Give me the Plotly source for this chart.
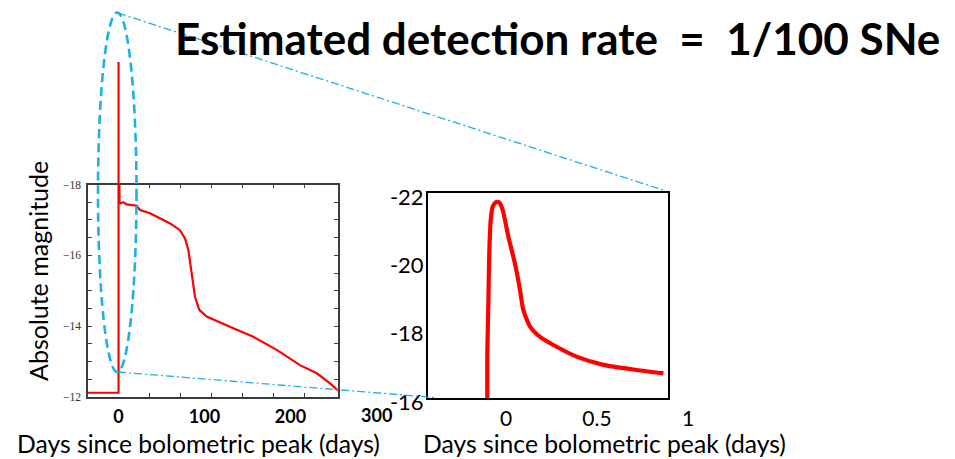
import plotly.graph_objects as go

# ---------------- data ----------------
# Left panel: full light curve (days since bolometric peak, absolute magnitude)
left_days = [-36, -0.3, 0.0, 0.0, 1.2, 2.6, 5.6, 9.5, 17.2, 21.1, 25.0, 36.6, 52.1, 59.9,
             71.5, 77.3, 81.2, 85.1, 88.9, 93.9, 102.5, 133.5, 156.7, 183.9, 211.0,
             230.5, 245.6, 255.4]
left_mag = [-12.12, -12.12, -12.12, -21.46, -17.47, -17.47, -17.50, -17.44, -17.40, -17.40,
            -17.28, -17.19, -17.00, -16.90, -16.71, -16.48, -16.15, -15.40, -14.83,
            -14.46, -14.27, -13.94, -13.70, -13.33, -12.90, -12.67, -12.39, -12.18]
spike_day = 0.0
spike_peak_mag = -21.46

# Right panel: zoom on the shock breakout (first day)
right_days = [-0.103, -0.103, -0.097, -0.092, -0.084, -0.073, -0.055, -0.037, -0.018, 0.013,
              0.049, 0.077, 0.095, 0.132, 0.187, 0.278, 0.388, 0.535, 0.718, 0.865]
right_mag = [-16.0, -17.21, -18.77, -20.24, -21.21, -21.60, -21.73, -21.72, -21.50, -20.72,
             -19.94, -19.16, -18.58, -18.09, -17.79, -17.50, -17.21, -16.97, -16.82, -16.72]

left_xticks = [0, 100, 200]
left_xtick_text = ["0", "100", "200"]
left_extra_xlabel = 300
left_xminor = [36, 72, 108, 144, 180, 216]
left_yticks = [-18, -16, -14, -12]
left_yminor = [-17.5, -17, -16.5, -15.5, -15, -14.5, -13.5, -13, -12.5]

right_xticks = [0, 0.5]
right_xtick_text = ["0", "0.5"]
right_extra_xlabel = 1
right_yticks = [-22, -20, -18, -16]
right_ytick_text = ["-22", "-20", "-18", "-16"]

title_text = "Estimated detection rate\u00a0\u00a0=\u00a0\u00a01/100 SNe"
xtitle = "Days since bolometric peak (days)"
ytitle = "Absolute magnitude"

# ---------------- layout geometry ----------------
W, H = 955, 459
def px(x):
    return x / W
def py(y):
    return 1 - y / H

LEFT_XDOM = [px(88), px(338)]
LEFT_YDOM = [py(397), py(184.5)]
LEFT_XRANGE = [-35.5, 255.2]
LEFT_YRANGE = [-12, -18]
RIGHT_XDOM = [px(428), px(668)]
RIGHT_YDOM = [py(398), py(193)]
RIGHT_XRANGE = [-0.4286, 0.8901]
RIGHT_YRANGE = [-16, -22]

def left_y_paper(v):
    f = (v - LEFT_YRANGE[0]) / (LEFT_YRANGE[1] - LEFT_YRANGE[0])
    return LEFT_YDOM[0] + f * (LEFT_YDOM[1] - LEFT_YDOM[0])

def dom_frac(v, rng):
    return (v - rng[0]) / (rng[1] - rng[0])

RED = "#ff0000"
BLUE = "#1ab0e8"
FONT = "Lato"

fig = go.Figure()
fig.add_trace(go.Scatter(x=left_days, y=left_mag, mode="lines",
                         line=dict(color=RED, width=2.2), xaxis="x", yaxis="y",
                         showlegend=False, hoverinfo="skip"))
fig.add_trace(go.Scatter(x=right_days, y=right_mag, mode="lines",
                         line=dict(color=RED, width=4.2, shape="spline", smoothing=0.6),
                         xaxis="x2", yaxis="y2", showlegend=False, hoverinfo="skip"))

grey = "#3c3c3c"
fig.update_layout(
    template="none",
    width=W, height=H, margin=dict(l=0, r=0, t=0, b=0, pad=0, autoexpand=False),
    paper_bgcolor="white", plot_bgcolor="white",
    font=dict(family=FONT, color="black"),
    xaxis=dict(domain=LEFT_XDOM, range=LEFT_XRANGE, anchor="y", automargin=False,
               showline=True, linecolor=grey, linewidth=1.5, mirror="ticks",
               showgrid=False, zeroline=False,
               tickmode="array", tickvals=left_xticks, ticktext=left_xtick_text,
               ticks="inside", ticklen=0, ticklabelstandoff=3,
               tickfont=dict(family=FONT, size=18, color="black", weight="bold"),
               minor=dict(tickmode="array", tickvals=left_xminor, ticks="inside",
                          ticklen=4, tickcolor=grey, tickwidth=1.2, showgrid=False)),
    yaxis=dict(domain=LEFT_YDOM, range=LEFT_YRANGE, anchor="x", automargin=False,
               showline=True, linecolor=grey, linewidth=1.5, mirror="ticks",
               showgrid=False, zeroline=False,
               tickmode="array", tickvals=left_yticks,
               ticks="inside", ticklen=4, tickcolor=grey, tickwidth=1.2,
               ticklabelstandoff=3,
               tickfont=dict(family="Liberation Serif", size=11.5, color="#333333"),
               minor=dict(tickmode="array", tickvals=left_yminor, ticks="inside",
                          ticklen=4, tickcolor=grey, tickwidth=1.2, showgrid=False)),
    xaxis2=dict(domain=RIGHT_XDOM, range=RIGHT_XRANGE, anchor="y2", automargin=False,
                showline=True, linecolor="black", linewidth=2, mirror=True,
                showgrid=False, zeroline=False,
                tickmode="array", tickvals=right_xticks, ticktext=right_xtick_text,
                ticks="", ticklabelstandoff=1,
                tickfont=dict(family=FONT, size=21, color="black")),
    yaxis2=dict(domain=RIGHT_YDOM, range=RIGHT_YRANGE, anchor="x2", automargin=False,
                showline=True, linecolor="black", linewidth=2, mirror=True,
                showgrid=False, zeroline=False,
                tickmode="array", tickvals=right_yticks, ticktext=right_ytick_text,
                ticks="", ticklabelstandoff=-2, ticklabelshift=-4,
                tickfont=dict(family=FONT, size=22, color="black")),
)

shapes = []
# part of the breakout spike that rises above the left frame
shapes.append(dict(type="line", xref="x", yref="paper",
                   x0=spike_day, x1=spike_day,
                   y0=left_y_paper(LEFT_YRANGE[1]), y1=left_y_paper(spike_peak_mag),
                   line=dict(color=RED, width=2.2), layer="above"))
# dashed ellipse highlighting the spike
shapes.append(dict(type="circle", xref="paper", yref="paper",
                   x0=px(98), x1=px(136.5), y0=py(372), y1=py(12.5),
                   line=dict(color=BLUE, width=2.6, dash="9px,5px"), layer="above"))
# dash-dot zoom connectors
shapes.append(dict(type="line", xref="paper", yref="paper",
                   x0=px(118), y0=py(13), x1=px(666), y1=py(191),
                   line=dict(color=BLUE, width=1.3, dash="8px,3px,2px,3px")))
shapes.append(dict(type="line", xref="paper", yref="paper",
                   x0=px(118), y0=py(372), x1=px(434), y1=py(397.5),
                   line=dict(color=BLUE, width=1.3, dash="8px,3px,2px,3px")))
fig.update_layout(shapes=shapes)

ann = []
ann.append(dict(text="<b>" + title_text + "</b>", xref="paper", yref="paper",
                x=px(557.5), y=py(38), xanchor="center", yanchor="middle",
                showarrow=False, font=dict(family=FONT, size=44, color="black")))
ann.append(dict(text=xtitle, xref="paper", yref="paper", x=px(198.5), y=py(443),
                xanchor="center", yanchor="middle", showarrow=False,
                font=dict(family=FONT, size=24.7, color="black")))
ann.append(dict(text=xtitle, xref="paper", yref="paper", x=px(604), y=py(443),
                xanchor="center", yanchor="middle", showarrow=False,
                font=dict(family=FONT, size=24.7, color="black")))
ann.append(dict(text=ytitle, xref="paper", yref="paper", x=px(38), y=py(271),
                xanchor="center", yanchor="middle", textangle=-90, showarrow=False,
                font=dict(family=FONT, size=25, color="black")))
# tick labels beyond the right edge of each frame
ann.append(dict(text="<b>%d</b>" % left_extra_xlabel, xref="x domain", yref="paper",
                x=dom_frac(left_extra_xlabel, LEFT_XRANGE), y=py(415),
                xanchor="center", yanchor="middle", showarrow=False,
                font=dict(family=FONT, size=18, color="black")))
ann.append(dict(text="%g" % right_extra_xlabel, xref="x2 domain", yref="paper",
                x=dom_frac(right_extra_xlabel, RIGHT_XRANGE), y=py(417),
                xanchor="center", yanchor="middle", showarrow=False,
                font=dict(family=FONT, size=21, color="black")))
fig.update_layout(annotations=ann)

fig.write_html("out.html")
